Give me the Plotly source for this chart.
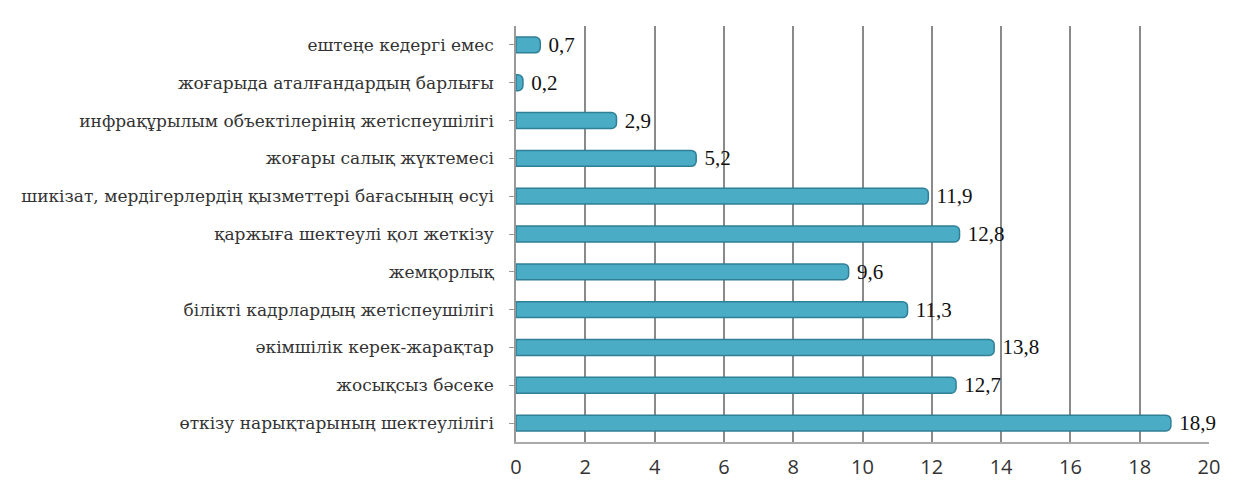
import plotly.graph_objects as go

categories = [
    "ештеңе кедергі емес",
    "жоғарыда аталғандардың барлығы",
    "инфрақұрылым объектілерінің жетіспеушілігі",
    "жоғары салық жүктемесі",
    "шикізат, мердігерлердің қызметтері бағасының өсуі",
    "қаржыға шектеулі қол жеткізу",
    "жемқорлық",
    "білікті кадрлардың жетіспеушілігі",
    "әкімшілік керек-жарақтар",
    "жосықсыз бәсеке",
    "өткізу нарықтарының шектеулілігі",
]
values = [0.7, 0.2, 2.9, 5.2, 11.9, 12.8, 9.6, 11.3, 13.8, 12.7, 18.9]
value_labels = ["0,7", "0,2", "2,9", "5,2", "11,9", "12,8", "9,6", "11,3", "13,8", "12,7", "18,9"]
x_ticks = [0, 2, 4, 6, 8, 10, 12, 14, 16, 18, 20]

fig = go.Figure()
fig.add_trace(go.Bar(
    y=categories,
    x=values,
    orientation="h",
    width=0.42,
    marker=dict(color="#4BACC6", line=dict(color="#2F7F96", width=1.5)),
    text=["\u00a0" + t for t in value_labels],
    textposition="outside",
    constraintext="none",
    cliponaxis=False,
    textfont=dict(family="Liberation Serif", size=21, color="#111111"),
))

fig.update_layout(
    width=1234,
    height=489,
    margin=dict(l=508, r=33, t=18, b=55),
    paper_bgcolor="white",
    plot_bgcolor="white",
    showlegend=False,
    barcornerradius=5,
)
fig.update_yaxes(
    autorange="reversed",
    showline=True,
    linecolor="#999999",
    linewidth=1.5,
    ticks="outside",
    ticklen=5,
    tickcolor="#999999",
    showgrid=False,
    ticklabelstandoff=12,
    tickfont=dict(family="DejaVu Serif", size=17, color="#333333"),
)
fig.update_xaxes(
    range=[0, 20],
    tickvals=x_ticks,
    showgrid=True,
    gridcolor="#8a8a8a",
    gridwidth=1.5,
    showline=True,
    linecolor="#aaaaaa",
    linewidth=1.5,
    zeroline=False,
    ticks="",
    ticklabelstandoff=6,
    tickfont=dict(family="Open Sans", size=20, color="#333333"),
)

fig.write_html("out.html")
